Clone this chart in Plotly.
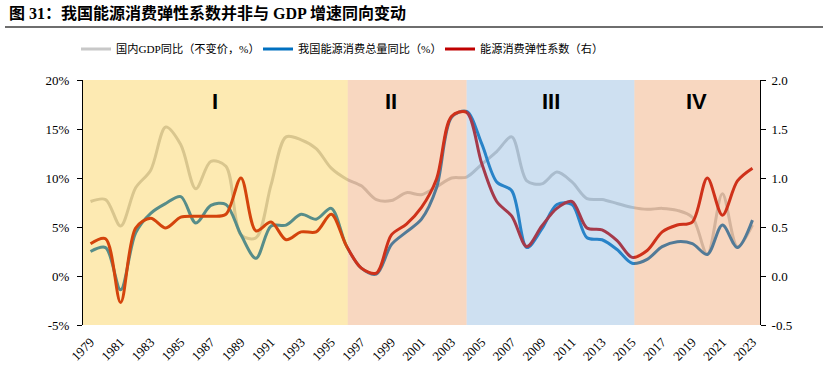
import plotly.graph_objects as go

years = list(range(1979, 2024))
gdp_growth = [7.6, 7.8, 5.1, 9.0, 10.8, 15.2, 13.4, 8.9, 11.7, 11.2, 4.2, 3.9, 9.3, 14.2, 13.9,
              13.0, 11.0, 9.9, 9.2, 7.8, 7.7, 8.5, 8.3, 9.1, 10.0, 10.1, 11.4, 12.7, 14.2, 9.7,
              9.4, 10.6, 9.6, 7.9, 7.8, 7.4, 7.0, 6.8, 6.9, 6.7, 6.0, 2.2, 8.4, 3.0, 5.2]
energy_growth = [2.5, 2.9, -1.4, 4.4, 6.4, 7.4, 8.1, 5.4, 7.2, 7.3, 4.2, 1.8, 5.1, 5.2, 6.3,
                 5.8, 6.9, 3.1, 0.8, 0.2, 3.2, 4.5, 5.8, 9.0, 16.2, 16.8, 13.5, 9.6, 8.7, 2.9,
                 4.8, 7.3, 7.3, 3.9, 3.7, 2.7, 1.3, 1.7, 3.0, 3.5, 3.3, 2.2, 5.2, 2.9, 5.7]
elasticity = [0.33, 0.38, -0.27, 0.49, 0.59, 0.49, 0.60, 0.61, 0.61, 0.63, 1.00, 0.46, 0.55, 0.37, 0.45,
              0.45, 0.63, 0.31, 0.08, 0.03, 0.42, 0.53, 0.70, 0.99, 1.63, 1.67, 1.15, 0.76, 0.61, 0.30,
              0.51, 0.69, 0.76, 0.49, 0.47, 0.36, 0.19, 0.26, 0.45, 0.52, 0.55, 1.00, 0.62, 0.97, 1.10]

series_names = ["国内GDP同比（不变价，%）", "我国能源消费总量同比（%）", "能源消费弹性系数（右）"]

x_tick_years = years[::2]
x_tick_labels = [str(y) for y in x_tick_years]
x_minor_ticks = [1978.5 + 2 * i for i in range(23)]

left_ticks = [-5, 0, 5, 10, 15, 20]
left_labels = ["-5%", "0%", "5%", "10%", "15%", "20%"]
right_ticks = [-0.5, 0.0, 0.5, 1.0, 1.5, 2.0]
right_labels = ["-0.5", "0.0", "0.5", "1.0", "1.5", "2.0"]

phase_labels = ["I", "II", "III", "IV"]
phase_starts = [1978.5, 1996.1, 2004.0, 2015.15]
phase_ends = [1996.1, 2004.0, 2015.15, 2023.5]
phase_label_x = [1987.3, 1999.0, 2009.6, 2019.3]
phase_fill = ["rgb(249,195,35)", "rgb(235,141,75)", "rgb(115,166,215)", "rgb(235,141,75)"]

title_text = "图 31：我国能源消费弹性系数并非与 GDP 增速同向变动"

W, H = 828, 383
ML, MR, MT, MB = 83, 68, 80, 58
PW, PH = W - ML - MR, H - MT - MB


def px_x(px):
    return (px - ML) / PW


def px_y(py):
    return (H - MB - py) / PH


font_cjk = "Liberation Serif, Noto Sans CJK SC, serif"

fig = go.Figure()
fig.add_trace(go.Scatter(x=years, y=gdp_growth, name=series_names[0], mode="lines",
                         line=dict(color="rgb(200,200,200)", width=3, shape="spline", smoothing=0.9)))
fig.add_trace(go.Scatter(x=years, y=energy_growth, name=series_names[1], mode="lines",
                         line=dict(color="rgb(0,112,192)", width=3, shape="spline", smoothing=0.9)))
fig.add_trace(go.Scatter(x=years, y=elasticity, name=series_names[2], mode="lines", yaxis="y2",
                         line=dict(color="rgb(192,0,0)", width=3, shape="spline", smoothing=0.9)))

shapes = []
for s, e, c in zip(phase_starts, phase_ends, phase_fill):
    shapes.append(dict(type="rect", xref="x", yref="paper", x0=s, x1=e, y0=0, y1=1,
                       fillcolor=c, opacity=0.35, line=dict(width=0), layer="above"))
shapes.append(dict(type="line", xref="paper", yref="paper", x0=px_x(5), x1=px_x(823),
                   y0=px_y(27), y1=px_y(27), line=dict(color="rgb(110,110,110)", width=2)))

annotations = []
for lab, xx in zip(phase_labels, phase_label_x):
    annotations.append(dict(x=xx, y=17.8, xref="x", yref="y", text=lab, showarrow=False,
                            font=dict(family="Liberation Sans, Arial, sans-serif", size=22,
                                      color="black", weight="bold")))
annotations.append(dict(x=px_x(7), y=px_y(13), xref="paper", yref="paper", xanchor="left",
                        yanchor="middle", text="<b>" + title_text + "</b>", showarrow=False,
                        font=dict(family=font_cjk, size=16, color="black")))

fig.update_layout(
    width=W, height=H,
    margin=dict(l=ML, r=MR, t=MT, b=MB, autoexpand=False),
    paper_bgcolor="white", plot_bgcolor="white",
    shapes=shapes, annotations=annotations,
    showlegend=True,
    legend=dict(orientation="h", x=px_x(76), y=px_y(49), xanchor="left", yanchor="middle",
                font=dict(family=font_cjk, size=11.2, color="black"),
                entrywidth=137, bgcolor="rgba(0,0,0,0)", itemwidth=30),
    xaxis=dict(range=[1978.5, 2023.5], tickmode="array", tickvals=x_tick_years,
               ticktext=x_tick_labels, tickangle=-45, ticks="", showline=False,
               showgrid=False, zeroline=False, automargin=False, ticklabelstandoff=6,
               tickfont=dict(family="Liberation Serif, serif", size=13, color="black")),
    xaxis2=dict(range=[1978.5, 2023.5], overlaying="x", anchor="free", position=0.2,
                side="bottom", tickmode="array", tickvals=x_minor_ticks, ticks="outside",
                ticklen=4, tickcolor="rgb(70,70,70)", showticklabels=False, showline=True,
                linecolor="rgb(70,70,70)", linewidth=1, showgrid=False, zeroline=False),
    yaxis=dict(range=[-5, 20], tickmode="array", tickvals=left_ticks, ticktext=left_labels,
               ticks="outside", ticklen=5, tickcolor="black", showline=True, linecolor="black",
               linewidth=1, showgrid=False, zeroline=False, automargin=False,
               ticklabelstandoff=5,
               tickfont=dict(family="Liberation Serif, serif", size=13, color="black")),
    yaxis2=dict(range=[-0.5, 2.0], overlaying="y", side="right", tickmode="array",
                tickvals=right_ticks, ticktext=right_labels, ticks="outside", ticklen=5,
                tickcolor="black", showline=True, linecolor="black", linewidth=1,
                showgrid=False, zeroline=False, automargin=False, ticklabelstandoff=3,
                tickfont=dict(family="Liberation Serif, serif", size=13, color="black")),
)

fig.write_html("out.html", post_script="document.body.style.margin='0px';",
               config={"displayModeBar": False})
